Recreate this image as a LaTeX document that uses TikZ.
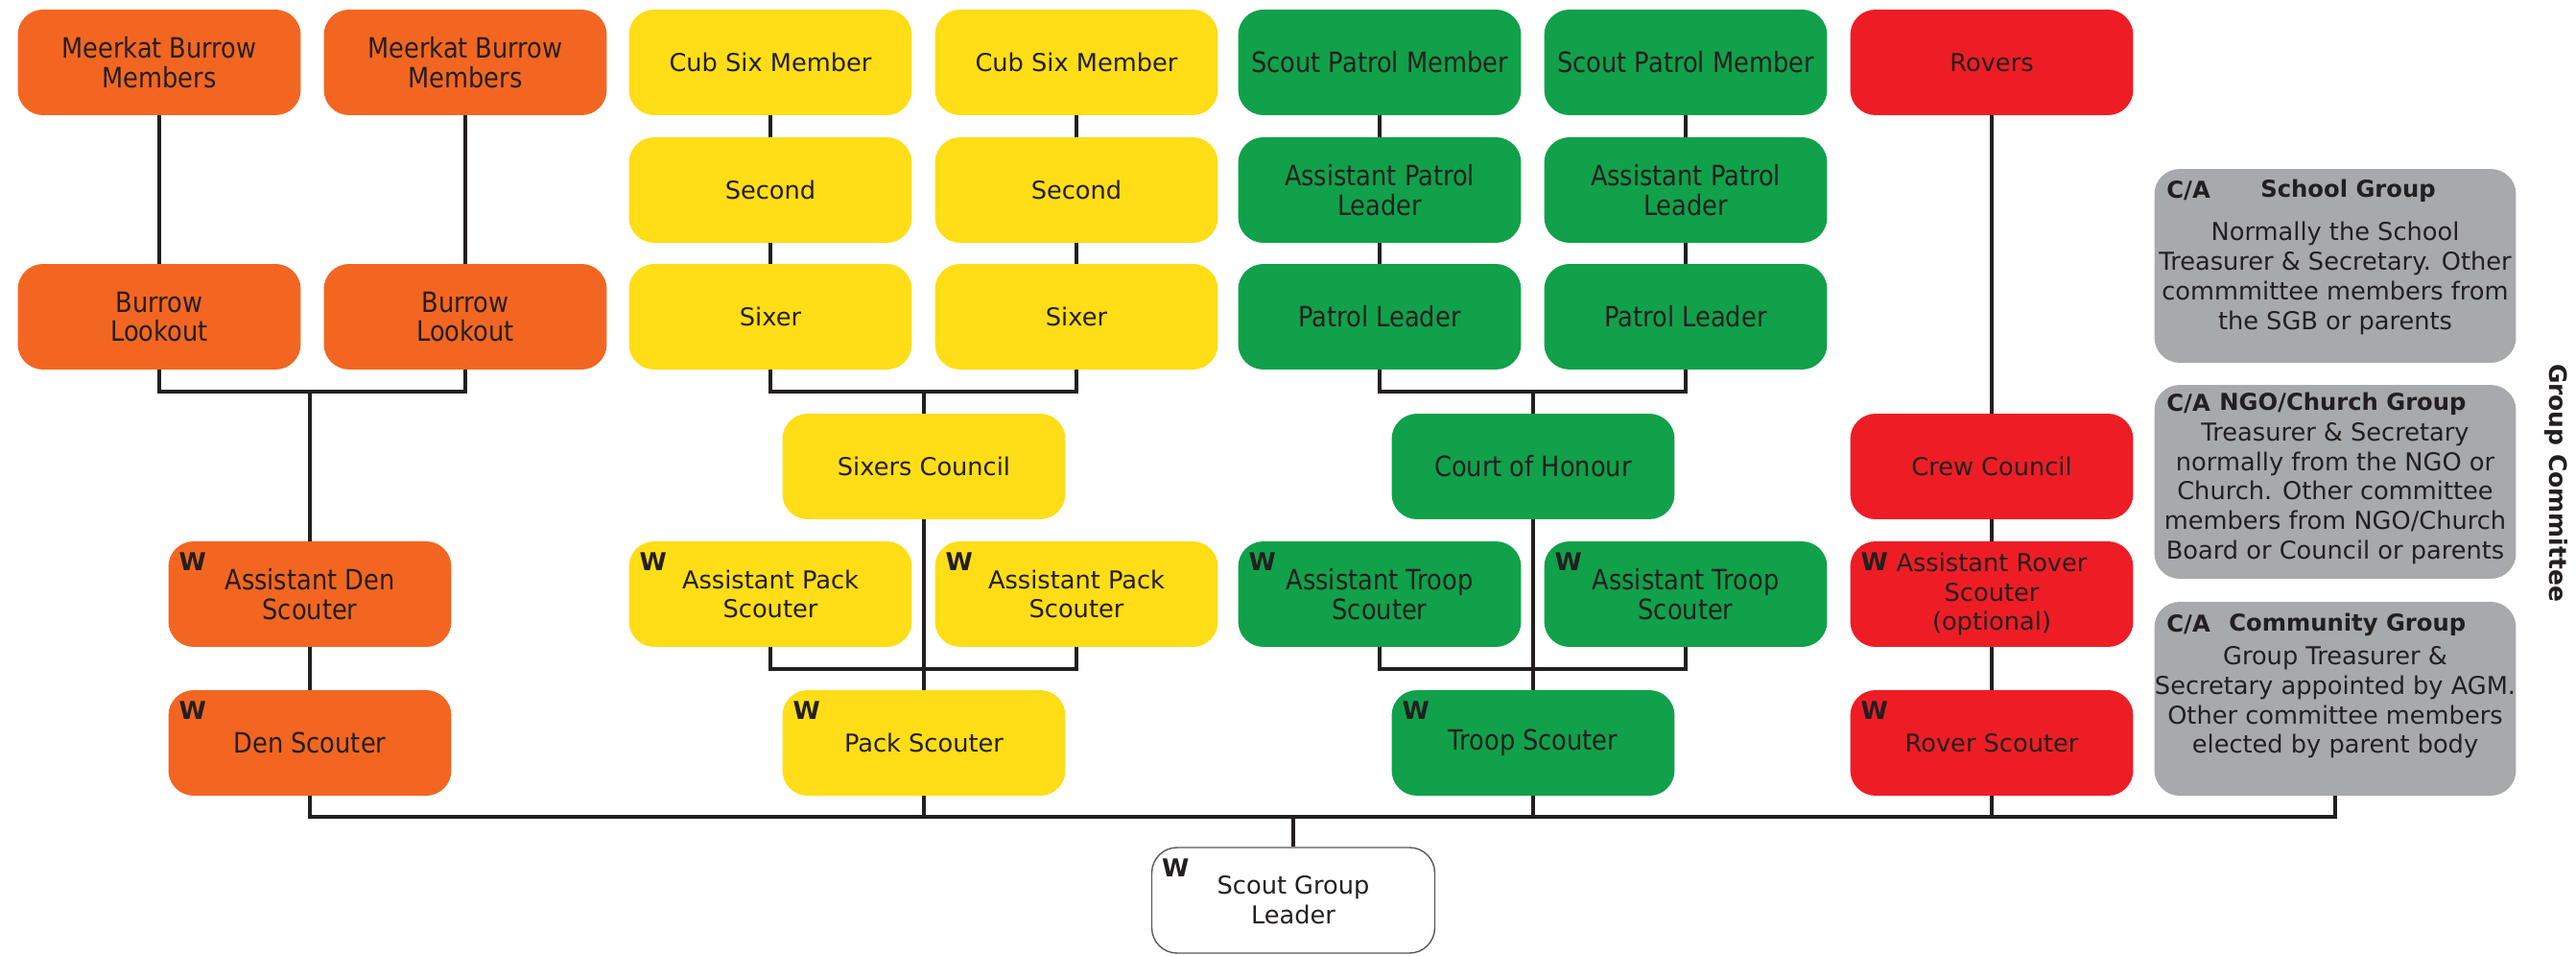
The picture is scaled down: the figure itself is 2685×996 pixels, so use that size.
\documentclass[tikz,border=0pt]{standalone}
\usepackage{fontspec}
\setmainfont{DejaVu Sans}
\newfontfamily\narrowfont[FakeStretch=0.88]{DejaVu Sans}
\usepackage{tikz}

\definecolor{denorange}{HTML}{F36621}
\definecolor{packyellow}{HTML}{FFDD17}
\definecolor{troopgreen}{HTML}{10A14A}
\definecolor{crewred}{HTML}{EE1D25}
\definecolor{committeegrey}{HTML}{A7A9AC}
\definecolor{ink}{HTML}{231F20}
\definecolor{rim}{HTML}{58595B}

\newcommand{\boxfont}{\fontsize{14.6}{17.5}\selectfont}
\newcommand{\narrowbox}{\narrowfont\fontsize{16.6}{17.5}\selectfont}

\tikzset{
  rolebox/.style={rounded corners=15pt, minimum width=5.9cm, minimum height=2.2cm,
    inner sep=0pt, align=center, text=ink, font=\boxfont},
  orangebox/.style={rolebox, fill=denorange, font=\narrowbox},
  yellowbox/.style={rolebox, fill=packyellow},
  greenbox/.style={rolebox, fill=troopgreen, font=\narrowbox},
  redbox/.style={rolebox, fill=crewred},
  leaderbox/.style={rolebox, fill=white, draw=rim, line width=0.8pt},
  greybox/.style={rounded corners=15pt, minimum width=7.54cm, minimum height=4.04cm,
    inner sep=0pt, fill=committeegrey},
  wtag/.style={anchor=north west, inner sep=0pt, text=ink, font=\bfseries\boxfont},
  catag/.style={anchor=west, inner sep=0pt, text=ink, font=\bfseries\fontsize{13.8}{17}\selectfont},
  cahead/.style={catag},
  cabody/.style={inner sep=0pt, align=center, text=ink, font=\boxfont},
  link/.style={draw=ink, line width=1.9pt}
}

\begin{document}
\begin{tikzpicture}[x=0.02cm,y=-0.02cm]
\useasboundingbox (0,0) rectangle (2685,996);

% meerkats and cubs' den
\node[orangebox] (mbm1) at (166,65) {Meerkat Burrow\\Members};
\node[orangebox] (mbm2) at (485,65) {Meerkat Burrow\\Members};
\node[orangebox] (bl1) at (166,330) {Burrow\\Lookout};
\node[orangebox] (bl2) at (485,330) {Burrow\\Lookout};
\node[orangebox] (ads) at (323,619) {Assistant Den\\Scouter};
\node[orangebox] (ds) at (323,774) {Den Scouter};

% cub pack
\node[yellowbox] (csm1) at (803,65) {Cub Six Member};
\node[yellowbox] (csm2) at (1122,65) {Cub Six Member};
\node[yellowbox] (sec1) at (803,198) {Second};
\node[yellowbox] (sec2) at (1122,198) {Second};
\node[yellowbox] (six1) at (803,330) {Sixer};
\node[yellowbox] (six2) at (1122,330) {Sixer};
\node[yellowbox] (sixc) at (963,486) {Sixers Council};
\node[yellowbox] (aps1) at (803,619) {Assistant Pack\\Scouter};
\node[yellowbox] (aps2) at (1122,619) {Assistant Pack\\Scouter};
\node[yellowbox] (pack) at (963,774) {Pack Scouter};

% scout troop
\node[greenbox] (spm1) at (1438,65) {Scout Patrol Member};
\node[greenbox] (spm2) at (1757,65) {Scout Patrol Member};
\node[greenbox] (apl1) at (1438,198) {Assistant Patrol\\Leader};
\node[greenbox] (apl2) at (1757,198) {Assistant Patrol\\Leader};
\node[greenbox] (pl1) at (1438,330) {Patrol Leader};
\node[greenbox] (pl2) at (1757,330) {Patrol Leader};
\node[greenbox] (coh) at (1598,486) {Court of Honour};
\node[greenbox] (ats1) at (1438,619) {Assistant Troop\\Scouter};
\node[greenbox] (ats2) at (1757,619) {Assistant Troop\\Scouter};
\node[greenbox] (troop) at (1598,774) {Troop Scouter};

% rover crew
\node[redbox] (rovers) at (2076,65) {Rovers};
\node[redbox] (crew) at (2076,486) {Crew Council};
\node[redbox] (ars) at (2076,619) {Assistant Rover\\Scouter\\(optional)};
\node[redbox] (rover) at (2076,774) {Rover Scouter};

\node[leaderbox] (sgl) at (1348,938) {Scout Group\\Leader};

% committees
\node[greybox] (school) at (2434,277) {};
\node[catag] (school-ca) at (2258,199) {C/A};
\node[cahead] (school-hd) at (2356,199) {School Group};
\node[cabody] (school-tx) at (2434,290) {Normally the School\\Treasurer \& Secretary. Other\\commmittee members from\\the SGB or parents};

\node[greybox] (ngo) at (2434,502) {};
\node[catag] (ngo-ca) at (2258,421) {C/A};
\node[cahead] (ngo-hd) at (2313,421) {NGO/Church Group};
\node[cabody] (ngo-tx) at (2434,514) {Treasurer \& Secretary\\normally from the NGO or\\Church. Other committee\\members from NGO/Church\\Board or Council or parents};

\node[greybox] (comm) at (2434,728) {};
\node[catag] (comm-ca) at (2258,651) {C/A};
\node[cahead] (comm-hd) at (2323,651) {Community Group};
\node[cabody] (comm-tx) at (2434,732) {Group Treasurer \&\\Secretary appointed by AGM.\\Other committee members\\elected by parent body};

\node[rotate=-90, inner sep=0pt, text=ink, font=\bfseries\fontsize{14.2}{17}\selectfont] (gc) at (2664,503) {Group Committee};

\foreach \n in {ads,ds,aps1,aps2,pack,ats1,ats2,troop,ars,rover,sgl}
  \node[wtag] (\n-w) at ([shift={(11,12)}]\n.north west) {W};

% joins
\coordinate (denjoin) at (323,408);
\coordinate (cubjoin) at (963,408);
\coordinate (scoutjoin) at (1598,408);
\coordinate (apsjoin) at (963,697);
\coordinate (atsjoin) at (1598,697);
\coordinate (busend) at (2434,851);

\draw[link] (mbm1) -- (bl1);
\draw[link] (mbm2) -- (bl2);
\draw[link] (bl1.south) |- (denjoin) -| (bl2.south);
\draw[link] (denjoin) -- (ads.north);
\draw[link] (ads) -- (ds);

\foreach \a/\b/\c in {csm1/sec1/six1,csm2/sec2/six2,spm1/apl1/pl1,spm2/apl2/pl2}
  \draw[link] (\a) -- (\b) -- (\c);
\draw[link] (six1.south) |- (cubjoin) -| (six2.south);
\draw[link] (cubjoin) -- (sixc.north);
\draw[link] (sixc.south) -- (pack.north);
\draw[link] (aps1.south) |- (apsjoin) -| (aps2.south);

\draw[link] (pl1.south) |- (scoutjoin) -| (pl2.south);
\draw[link] (scoutjoin) -- (coh.north);
\draw[link] (coh.south) -- (troop.north);
\draw[link] (ats1.south) |- (atsjoin) -| (ats2.south);

\draw[link] (rovers) -- (crew) -- (ars) -- (rover);

\draw[link] (ds.south) |- (busend) -- (comm.south);
\foreach \n in {pack,troop,rover}
  \draw[link] (\n.south) -- (\n.south |- busend);
\draw[link] (sgl.north) -- (sgl.north |- busend);
\end{tikzpicture}
\end{document}
